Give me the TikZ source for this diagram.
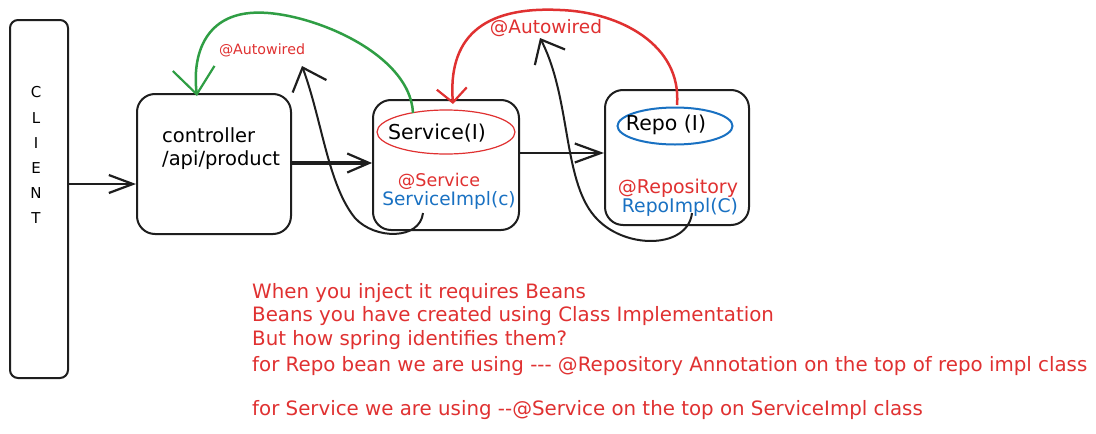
\documentclass[tikz,border=0pt]{standalone}
\usepackage{fontspec}
\setmainfont{DejaVu Sans}
\usetikzlibrary{arrows.meta,shapes.geometric}
\definecolor{xred}{HTML}{E03131}
\definecolor{xgreen}{HTML}{2F9E44}
\definecolor{xblue}{HTML}{1971C2}
\definecolor{xblack}{HTML}{1E1E1E}
\newcommand{\fs}[1]{\fontsize{#1}{#1}\selectfont}
\tikzset{
  box/.style={draw=xblack, line width=2pt, rounded corners=18pt, inner sep=0pt},
  lbl/.style={inner sep=0pt, font=\fs{18.5}},
  note/.style={inner sep=0pt, anchor=west, text=xred, font=\fs{19.8}},
  barb/.style 2 args={-{Straight Barb[length=#1, width=#2, line width=2.2pt]}},
}
\begin{document}
\begin{tikzpicture}[x=1pt,y=-1pt]
\useasboundingbox[fill=white] (0,0) rectangle (1096,434);

% boxes
\node[box, rounded corners=8pt, minimum width=58pt, minimum height=358pt] (client) at (39,199) {};
\node[box, minimum width=154pt, minimum height=140pt] (ctrl) at (214,164) {};
\node[box, minimum width=146pt, minimum height=130pt] (svc) at (446,165) {};
\node[box, minimum width=144pt, minimum height=135pt] (repo) at (677,157.5) {};

% CLIENT letters
\node[lbl, font=\fs{15}] (c1) at (36,92) {C};
\node[lbl, font=\fs{15}] (c2) at (36,118) {L};
\node[lbl, font=\fs{15}] (c3) at (36,143) {I};
\node[lbl, font=\fs{15}] (c4) at (36,168) {E};
\node[lbl, font=\fs{15}] (c5) at (36,193) {N};
\node[lbl, font=\fs{15}] (c6) at (36,218) {T};

% controller text
\node[lbl, anchor=west, font=\fs{19.5}] (ct1) at (162,135) {controller};
\node[lbl, anchor=west, font=\fs{19.5}] (ct2) at (162,160) {/api/product};

% service internals
\node[draw=xred, line width=1.2pt, ellipse, minimum width=138pt, minimum height=44pt, inner sep=0pt] (sif) at (446,132) {};
\node[lbl, font=\fs{20.5}] (sift) at (437,133) {Service(I)};
\node[lbl, text=xred, font=\fs{17.5}] (sann) at (439,181) {@Service};
\node[lbl, text=xblue] (simpl) at (449,200) {ServiceImpl(c)};

% repo internals
\node[draw=xblue, line width=2pt, ellipse, minimum width=115pt, minimum height=37pt, inner sep=0pt] (rif) at (675,126) {};
\node[lbl, font=\fs{20.5}] (rift) at (666,125) {Repo (I)};
\node[lbl, text=xred, font=\fs{19}] (rann) at (678,188) {@Repository};
\node[lbl, text=xblue, font=\fs{18.8}] (rimpl) at (680,207) {RepoImpl(C)};

% autowired labels
\node[lbl, text=xred, font=\fs{14.2}] (aw1) at (262,50) {@Autowired};
\node[lbl, text=xred] (aw2) at (546,28) {@Autowired};

% straight arrows
\draw[xblack, line width=2pt, barb={24pt}{18pt}] (client.east |- 0,184) -- (ctrl.west |- 0,184);
\draw[xblack, line width=3.2pt, barb={22pt}{19pt}] (ctrl.east |- 0,163) -- (svc.west |- 0,163);
\draw[xblack, line width=2pt, barb={26pt}{19pt}] (svc.east |- 0,153) -- (repo.west |- 0,153);

% green autowired curve
\coordinate (gs) at (413,113);
\coordinate (ge) at (197,96);
\draw[xgreen, line width=2.5pt, barb={26pt}{42pt}] (gs) .. controls (410,50) and (300,8) .. (250,13) .. controls (205,17) and (192,55) .. (ge);

% red autowired curve
\coordinate (rs) at (677,105);
\coordinate (re) at (453,104);
\draw[xred, line width=2.5pt, barb={14pt}{30pt}] (rs) .. controls (682,45) and (620,12) .. (560,10) .. controls (480,6) and (448,40) .. (re);

% black return curves
\coordinate (b1s) at (423,213);
\coordinate (b1e) at (302,66);
\draw[xblack, line width=2pt, barb={20pt}{36pt}] (b1s) .. controls (420,240) and (375,240) .. (355,218) .. controls (328,185) and (322,120) .. (b1e);
\coordinate (b2s) at (692,213);
\coordinate (b2e) at (540,38);
\draw[xblack, line width=2pt, barb={20pt}{34pt}] (b2s) .. controls (688,248) and (628,250) .. (598,220) .. controls (562,185) and (572,100) .. (b2e);

% notes
\node[note] (t1) at (252,293) {When you inject it requires Beans};
\node[note] (t2) at (252,316) {Beans you have created using Class Implementation};
\node[note] (t3) at (252,340) {But how spring identifies them?};
\node[note] (t4) at (252,366) {for Repo bean we are using -{}-{}- @Repository Annotation on the top of repo impl class};
\node[note] (t5) at (252,410) {for Service we are using -{}-@Service on the top on ServiceImpl class};
\end{tikzpicture}
\end{document}
